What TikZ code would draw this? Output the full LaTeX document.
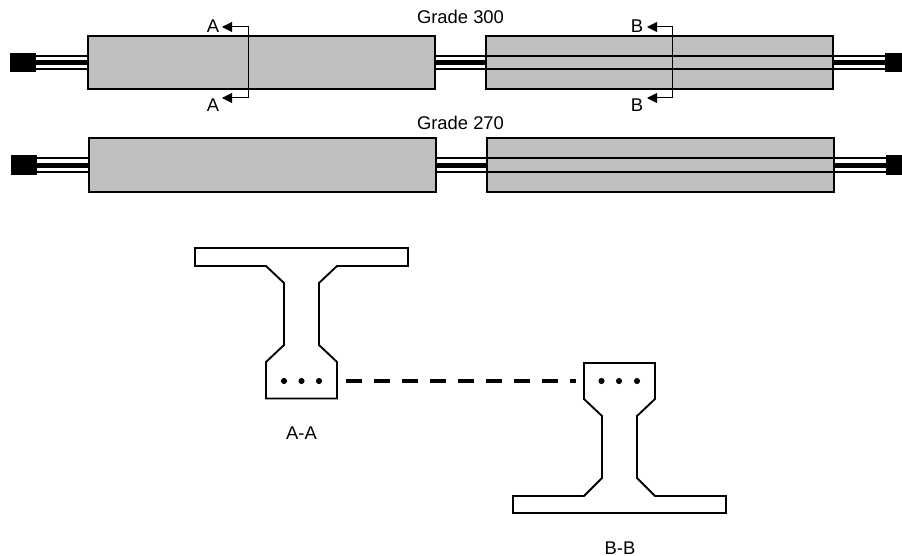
\documentclass[tikz,border=0pt]{standalone}
\usepackage{fontspec}
\setmainfont{Liberation Sans}
\usetikzlibrary{arrows.meta, positioning}
\definecolor{beamgrey}{HTML}{BFBFBF}
\tikzset{
	beam/.style={draw,
		fill=beamgrey,
		line width=1.5pt,
		outer sep=0pt,
		inner sep=0pt,
		minimum width=260.25pt,
		minimum height=39.75pt},
	anchorblock/.style={fill=black,
		outer sep=0pt,
		inner sep=0pt,
		minimum height=14.5pt},
	strand/.style={line width=1.5pt},
	corestrand/.style={line width=3.75pt},
	sectionline/.style={draw, line width=1.4pt, line join=miter},
	strandhole/.style={circle, fill=black, inner sep=0pt, minimum size=4.6pt},
	textlabel/.style={anchor=base, inner sep=0pt, font=\fontsize{13.8}{16}\selectfont},
	cutline/.style={line width=0.75pt, {Triangle[length=7.5pt,width=7.5pt]}-{Triangle[length=7.5pt,width=7.5pt]}}
}

\begin{document}
\begin{tikzpicture}[x=0.75pt,y=-0.75pt]
	\useasboundingbox (0,0) rectangle (902,556);
	% beams
	\node[beam] (beam1) at (261.5,62.5) {};
	\node[beam, right=38.25pt of beam1] (beam2) {};
	\node[beam] (beam3) at (262.5,165) {};
	\node[beam, right=38.25pt of beam3] (beam4) {};
	% end blocks
	\node[anchorblock, minimum width=19.5pt] (end1) at (23,62.5) {};
	\node[anchorblock, minimum width=12.75pt] (end2) at (893.5,62.5) {};
	\node[anchorblock, minimum width=19.5pt] (end3) at (24,165) {};
	\node[anchorblock, minimum width=12pt] (end4) at (894,165) {};
	% cables
	\foreach \from/\to in {end1/beam1, beam1/beam2, beam2/end2, end3/beam3, beam3/beam4, beam4/end4} {
		\draw[strand] ([yshift=5pt]\from.east) -- ([yshift=5pt]\to.west);
		\draw[strand] ([yshift=-5pt]\from.east) -- ([yshift=-5pt]\to.west);
		\draw[corestrand] (\from.east) -- (\to.west);
	}
	% lines in the right beams
	\foreach \name in {beam2, beam4} {
		\draw[line width=1.5pt] ([yshift=4.9pt]\name.west) -- ([yshift=4.9pt]\name.east);
		\draw[line width=1.5pt] ([yshift=-4.9pt]\name.west) -- ([yshift=-4.9pt]\name.east);
	}
	% titles
	\node[textlabel] (grade1) at (460.5,24) {Grade 300};
	\node[textlabel] (grade2) at (460.5,129.3) {Grade 270};
	% cut A
	\node[textlabel] (labelA1) at (213,32.7) {A};
	\node[textlabel] (labelA2) at (213,112) {A};
	\coordinate (tipA1) at (222,27);
	\coordinate (tipA2) at (222,98);
	\draw[cutline] (tipA1) -| (248,98) -- (tipA2);
	% cut B
	\node[textlabel] (labelB1) at (637,32.7) {B};
	\node[textlabel] (labelB2) at (637,112) {B};
	\coordinate (tipB1) at (647,27);
	\coordinate (tipB2) at (647,98);
	\draw[cutline] (tipB1) -| (672.7,98) -- (tipB2);
	% section A-A
	\draw[sectionline] (195,248) -- (408,248) -- (408,266) -- (337,266) -- (319,283) -- (319,345)
		-- (337,362) -- (337,398.5) -- (266,398.5) -- (266,362) -- (284,345) -- (284,283)
		-- (266,266) -- (195,266) -- cycle;
	\node[strandhole] (dotA1) at (284,381) {};
	\node[strandhole] (dotA2) at (301.5,381) {};
	\node[strandhole] (dotA3) at (319,381) {};
	\node[textlabel] (labelAA) at (301.5,439) {A-A};
	% section B-B
	\draw[sectionline] (584,363) -- (655,363) -- (655,399) -- (637,416) -- (637,478) -- (655,496)
		-- (726,496) -- (726,513) -- (513,513) -- (513,496) -- (584,496) -- (602,478)
		-- (602,416) -- (584,399) -- cycle;
	\node[strandhole] (dotB1) at (601.5,381) {};
	\node[strandhole] (dotB2) at (619,381) {};
	\node[strandhole] (dotB3) at (637,381) {};
	\node[textlabel] (labelBB) at (620,554) {B-B};
	% dashed line
	\coordinate (dashA) at (346,381);
	\coordinate (dashB) at (576,381);
	\draw[line width=3pt, dash pattern=on 12pt off 9pt] (dashA) -- (dashB);
\end{tikzpicture}
\end{document}
